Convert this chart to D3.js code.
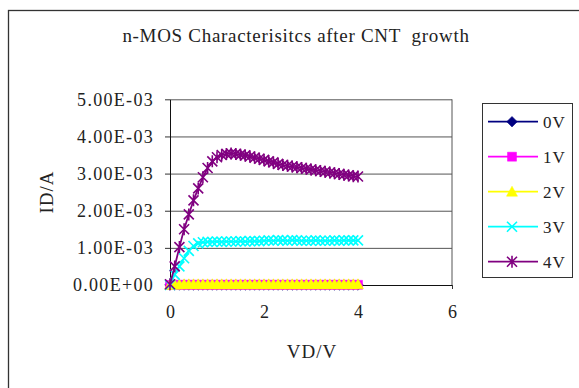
<!DOCTYPE html>
<html>
<head>
<meta charset="utf-8">
<script src="https://cdn.jsdelivr.net/npm/d3@7"></script>
<style>
  body { margin: 0; background: #fff; }
  text { font-family: "Liberation Serif", "Times New Roman", serif; fill: #222; }
</style>
</head>
<body>
<div id="chart"></div>
<script>
// drain voltage (V)
var vd = [0, 0.1, 0.2, 0.3, 0.4, 0.5, 0.6, 0.7, 0.8, 0.9,
          1.0, 1.1, 1.2, 1.3, 1.4, 1.5, 1.6, 1.7, 1.8, 1.9,
          2.0, 2.1, 2.2, 2.3, 2.4, 2.5, 2.6, 2.7, 2.8, 2.9,
          3.0, 3.1, 3.2, 3.3, 3.4, 3.5, 3.6, 3.7, 3.8, 3.9, 4.0];

// drain current in mA, one array per gate voltage
var id0V = [0, 0, 0, 0, 0, 0, 0, 0, 0, 0,
            0, 0, 0, 0, 0, 0, 0, 0, 0, 0,
            0, 0, 0, 0, 0, 0, 0, 0, 0, 0,
            0, 0, 0, 0, 0, 0, 0, 0, 0, 0, 0];
var id1V = [0, 0.004, 0.005, 0.005, 0.005, 0.005, 0.005, 0.005, 0.005, 0.005,
            0.005, 0.005, 0.005, 0.005, 0.005, 0.005, 0.005, 0.005, 0.005, 0.005,
            0.005, 0.005, 0.005, 0.005, 0.005, 0.005, 0.005, 0.005, 0.005, 0.005,
            0.005, 0.005, 0.005, 0.005, 0.005, 0.005, 0.005, 0.005, 0.005, 0.005, 0.005];
var id2V = [0, 0.01, 0.015, 0.02, 0.02, 0.02, 0.02, 0.02, 0.02, 0.02,
            0.02, 0.02, 0.02, 0.02, 0.02, 0.02, 0.02, 0.02, 0.02, 0.02,
            0.02, 0.02, 0.02, 0.02, 0.02, 0.02, 0.02, 0.02, 0.02, 0.02,
            0.02, 0.02, 0.02, 0.02, 0.02, 0.02, 0.02, 0.02, 0.02, 0.02, 0.02];
var id3V = [0, 0.28, 0.50, 0.72, 0.92, 1.05, 1.12, 1.15, 1.16, 1.16,
            1.17, 1.16, 1.17, 1.17, 1.17, 1.18, 1.17, 1.18, 1.18, 1.18,
            1.19, 1.20, 1.19, 1.21, 1.20, 1.19, 1.21, 1.20, 1.19, 1.19,
            1.19, 1.20, 1.19, 1.19, 1.19, 1.20, 1.19, 1.20, 1.20, 1.20, 1.20];
var id4V = [0.02, 0.50, 1.02, 1.50, 1.90, 2.28, 2.60, 2.90, 3.15, 3.33,
            3.44, 3.50, 3.53, 3.54, 3.53, 3.51, 3.49, 3.46, 3.43, 3.40,
            3.37, 3.33, 3.30, 3.26, 3.23, 3.21, 3.19, 3.17, 3.15, 3.13,
            3.11, 3.09, 3.07, 3.05, 3.03, 3.01, 2.99, 2.97, 2.95, 2.93, 2.92];

var seriesNames = ["0V", "1V", "2V", "3V", "4V"];
var seriesColors = ["#000080", "#ff00ff", "#ffff00", "#00ffff", "#800080"];
var seriesMarkers = ["diamond", "square", "triangle", "cross", "star"];

var xTicks = [0, 2, 4, 6];
var yTicks = [0, 1, 2, 3, 4, 5];
var yTickLabels = ["0.00E+00", "1.00E-03", "2.00E-03", "3.00E-03", "4.00E-03", "5.00E-03"];

var w = 579, h = 388;
var plotLeft = 170, plotRight = 452, plotTop = 99.3, plotBottom = 285;

var series = [id0V, id1V, id2V, id3V, id4V];

var svg = d3.select("#chart").append("svg")
    .attr("width", w)
    .attr("height", h);

// outer chart border
svg.append("rect")
   .attr("x", 8.5).attr("y", 10.5)
   .attr("width", 600).attr("height", 400)
   .attr("fill", "none")
   .attr("stroke", "#333")
   .attr("stroke-width", 1.3);

var x = d3.scaleLinear().domain([0, 6]).range([plotLeft, plotRight]);
var y = d3.scaleLinear().domain([0, 5]).range([plotBottom, plotTop]);

// gridlines
svg.append("g")
   .attr("transform", "translate(" + plotLeft + ",0)")
   .call(d3.axisLeft(y).tickValues(yTicks).tickSize(-(plotRight - plotLeft)).tickFormat(""))
   .call(function(g){ g.select(".domain").remove(); })
   .selectAll("line").attr("stroke", "#555");

// plot right border
svg.append("line")
   .attr("x1", plotRight).attr("x2", plotRight)
   .attr("y1", plotTop).attr("y2", plotBottom)
   .attr("stroke", "#555");

var yAxis = svg.append("g")
   .attr("transform", "translate(" + plotLeft + ",0)")
   .call(d3.axisLeft(y).tickValues(yTicks).tickSize(5).tickPadding(11).tickSizeOuter(0)
         .tickFormat(function(d, i){ return yTickLabels[i]; }));
yAxis.selectAll("text")
     .style("font-family", "Liberation Serif")
     .style("font-size", "18px")
     .style("letter-spacing", "1.3px")
     .attr("fill", "#222");
yAxis.select(".domain").attr("stroke", "#111");
yAxis.selectAll("line").attr("stroke", "#333");

var xAxis = svg.append("g")
   .attr("transform", "translate(0," + plotBottom + ")")
   .call(d3.axisBottom(x).tickValues(xTicks).tickSize(4).tickPadding(16).tickSizeOuter(0)
         .tickFormat(d3.format("d")));
xAxis.selectAll("text")
     .style("font-family", "Liberation Serif")
     .style("font-size", "18px")
     .attr("fill", "#222");
xAxis.select(".domain").attr("stroke", "#111");
xAxis.selectAll("line").attr("stroke", "#333");

function markerPath(type){
  if (type === "diamond") return "M0,-5.3L5.3,0L0,5.3L-5.3,0Z";
  if (type === "square") return "M-4.5,-4.5H4.5V4.5H-4.5Z";
  if (type === "triangle") return "M0,-5.5L5.5,4.5L-5.5,4.5Z";
  if (type === "cross") return "M-5,-5L5,5M-5,5L5,-5";
  return "M-5,-5L5,5M-5,5L5,-5M0,-6V6";
}

var line = d3.line()
   .x(function(d, i){ return x(vd[i]); })
   .y(function(d){ return y(d); });

series.forEach(function(data, s){
  var color = seriesColors[s];
  var type = seriesMarkers[s];
  var open = (type === "cross" || type === "star");

  svg.append("path")
     .datum(data)
     .attr("d", line)
     .attr("fill", "none")
     .attr("stroke", color)
     .attr("stroke-width", 1.8);

  svg.append("g").selectAll("path")
     .data(data)
     .enter()
     .append("path")
     .attr("transform", function(d, i){ return "translate(" + x(vd[i]) + "," + y(d) + ")"; })
     .attr("d", markerPath(type))
     .attr("fill", open ? "none" : color)
     .attr("stroke", color)
     .attr("stroke-width", open ? 1.6 : 0.5);
});

// legend
var legend = svg.append("g");
legend.append("rect")
      .attr("x", 482.5).attr("y", 103.5)
      .attr("width", 90).attr("height", 174)
      .attr("fill", "#fff")
      .attr("stroke", "#333");

seriesNames.forEach(function(name, s){
  var ly = 121.7 + s * 35;
  var type = seriesMarkers[s];
  var open = (type === "cross" || type === "star");
  legend.append("line")
        .attr("x1", 488).attr("x2", 538)
        .attr("y1", ly).attr("y2", ly)
        .attr("stroke", seriesColors[s])
        .attr("stroke-width", 1.8);
  legend.append("path")
        .attr("transform", "translate(512," + ly + ")")
        .attr("d", markerPath(type))
        .attr("fill", open ? "none" : seriesColors[s])
        .attr("stroke", seriesColors[s])
        .attr("stroke-width", open ? 1.6 : 0.5);
  legend.append("text")
        .attr("x", 543).attr("y", ly + 6)
        .style("font-size", "17px")
        .style("letter-spacing", "1px")
        .text(name);
});

// titles
svg.append("text")
   .attr("x", 296).attr("y", 42)
   .attr("text-anchor", "middle")
   .style("font-size", "19px")
   .style("letter-spacing", "0.7px")
   .style("white-space", "pre")
   .text("n-MOS Characterisitcs after CNT  growth");

svg.append("text")
   .attr("transform", "translate(53,192) rotate(-90)")
   .attr("text-anchor", "middle")
   .style("font-size", "19px")
   .style("letter-spacing", "1px")
   .text("ID/A");

svg.append("text")
   .attr("x", 312).attr("y", 358)
   .attr("text-anchor", "middle")
   .style("font-size", "19px")
   .style("letter-spacing", "1px")
   .text("VD/V");
</script>
</body>
</html>
